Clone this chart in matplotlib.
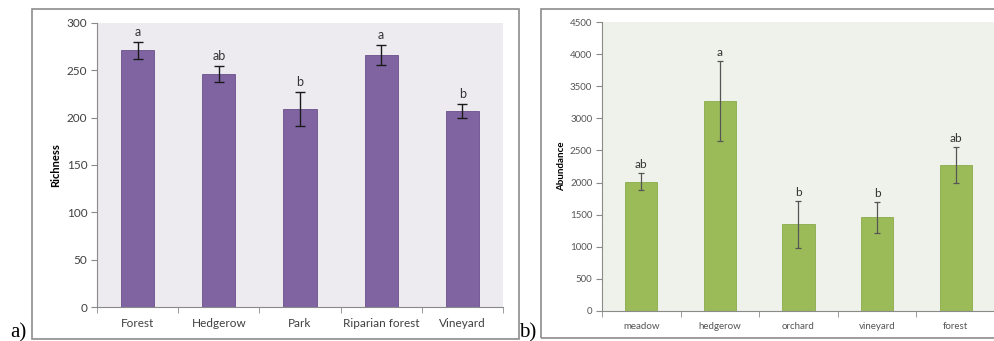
import matplotlib
matplotlib.use("Agg")
import matplotlib.pyplot as plt
from matplotlib.patches import Rectangle

# --- Data ---
habitats_a = ["Forest", "Hedgerow", "Park", "Riparian forest", "Vineyard"]
richness = [271, 246, 209, 266, 207]
richness_err = [9, 8.5, 18, 10.5, 7]
letters_a = ["a", "ab", "b", "a", "b"]

habitats_b = ["meadow", "hedgerow", "orchard", "vineyard", "forest"]
abundance = [2015, 3270, 1350, 1460, 2275]
abundance_err = [135, 625, 365, 240, 275]
letters_b = ["ab", "a", "b", "b", "ab"]

plt.rcParams["font.family"] = ["Lato", "DejaVu Sans"]

W, H = 995, 341
fig = plt.figure(figsize=(W / 100, H / 100), dpi=100)


def px_axes(l, t, r, b):
    return fig.add_axes([l / W, 1 - b / H, (r - l) / W, (b - t) / H])


def frame(l, t, r, b):
    fig.patches.append(Rectangle((l / W, 1 - b / H), (r - l) / W, (b - t) / H,
                                 transform=fig.transFigure, fill=False,
                                 edgecolor="#8c8c8c", linewidth=1.2))


def style_axes(ax, n, label_size, tick_color):
    for s in ["top", "right"]:
        ax.spines[s].set_visible(False)
    for s in ["left", "bottom"]:
        ax.spines[s].set_color("#8a8a8a")
        ax.spines[s].set_linewidth(0.8)
    ax.set_xlim(-0.5, n - 0.5)
    ax.set_xticks(range(n))
    ax.set_xticks([i - 0.5 for i in range(n + 1)], minor=True)
    ax.tick_params(axis="x", which="major", length=0, pad=8,
                   labelsize=label_size, colors=tick_color)
    ax.tick_params(axis="x", which="minor", length=4, color="#8a8a8a")
    ax.tick_params(axis="y", length=4, color="#8a8a8a",
                   labelsize=label_size, colors=tick_color, pad=3)


# --- Panel a ---
frame(32, 9, 519, 339)
ax1 = px_axes(97, 23, 503, 307)
ax1.set_facecolor("#edebf0")
x = range(len(habitats_a))
ax1.bar(x, richness, width=0.41, color="#8064a2", edgecolor="#6a4f8c", linewidth=0.6)
ax1.errorbar(x, richness, yerr=richness_err, fmt="none", ecolor="#1a1a1a",
             elinewidth=1.0, capsize=3.5, capthick=1.0)
for i, (v, e, t) in enumerate(zip(richness, richness_err, letters_a)):
    ax1.annotate(t, (i, v + e), xytext=(0, 3), textcoords="offset points",
                 ha="center", va="bottom", fontsize=9, color="#333333")
ax1.set_ylim(0, 300)
ax1.set_yticks(range(0, 301, 50))
ax1.set_xticklabels(habitats_a)
style_axes(ax1, len(habitats_a), 8.5, "#404040")
ax1.set_ylabel("Richness", fontsize=8, fontweight="bold", labelpad=4)

# --- Panel b ---
frame(541, 9, 1000, 338)
ax2 = px_axes(602, 22, 995, 311)
ax2.set_facecolor("#eff2ea")
x = range(len(habitats_b))
ax2.bar(x, abundance, width=0.41, color="#9bbb59", edgecolor="#8aab4a", linewidth=0.6)
ax2.errorbar(x, abundance, yerr=abundance_err, fmt="none", ecolor="#555555",
             elinewidth=0.9, capsize=2, capthick=0.9)
for i, (v, e, t) in enumerate(zip(abundance, abundance_err, letters_b)):
    ax2.annotate(t, (i, v + e), xytext=(0, 2), textcoords="offset points",
                 ha="center", va="bottom", fontsize=8.5, color="#333333")
ax2.set_ylim(0, 4500)
ax2.set_yticks(range(0, 4501, 500))
ax2.set_xticklabels(habitats_b)
style_axes(ax2, len(habitats_b), 7, "#555555")
ax2.set_ylabel("Abundance", fontsize=7, fontweight="bold", labelpad=3)

# panel letters
fig.text(10 / W, 1 - 337 / H, "a)", fontsize=15, family="Liberation Serif", va="baseline")
fig.text(519 / W, 1 - 337 / H, "b)", fontsize=15, family="Liberation Serif", va="baseline")

fig.savefig("out.png", dpi=100)
